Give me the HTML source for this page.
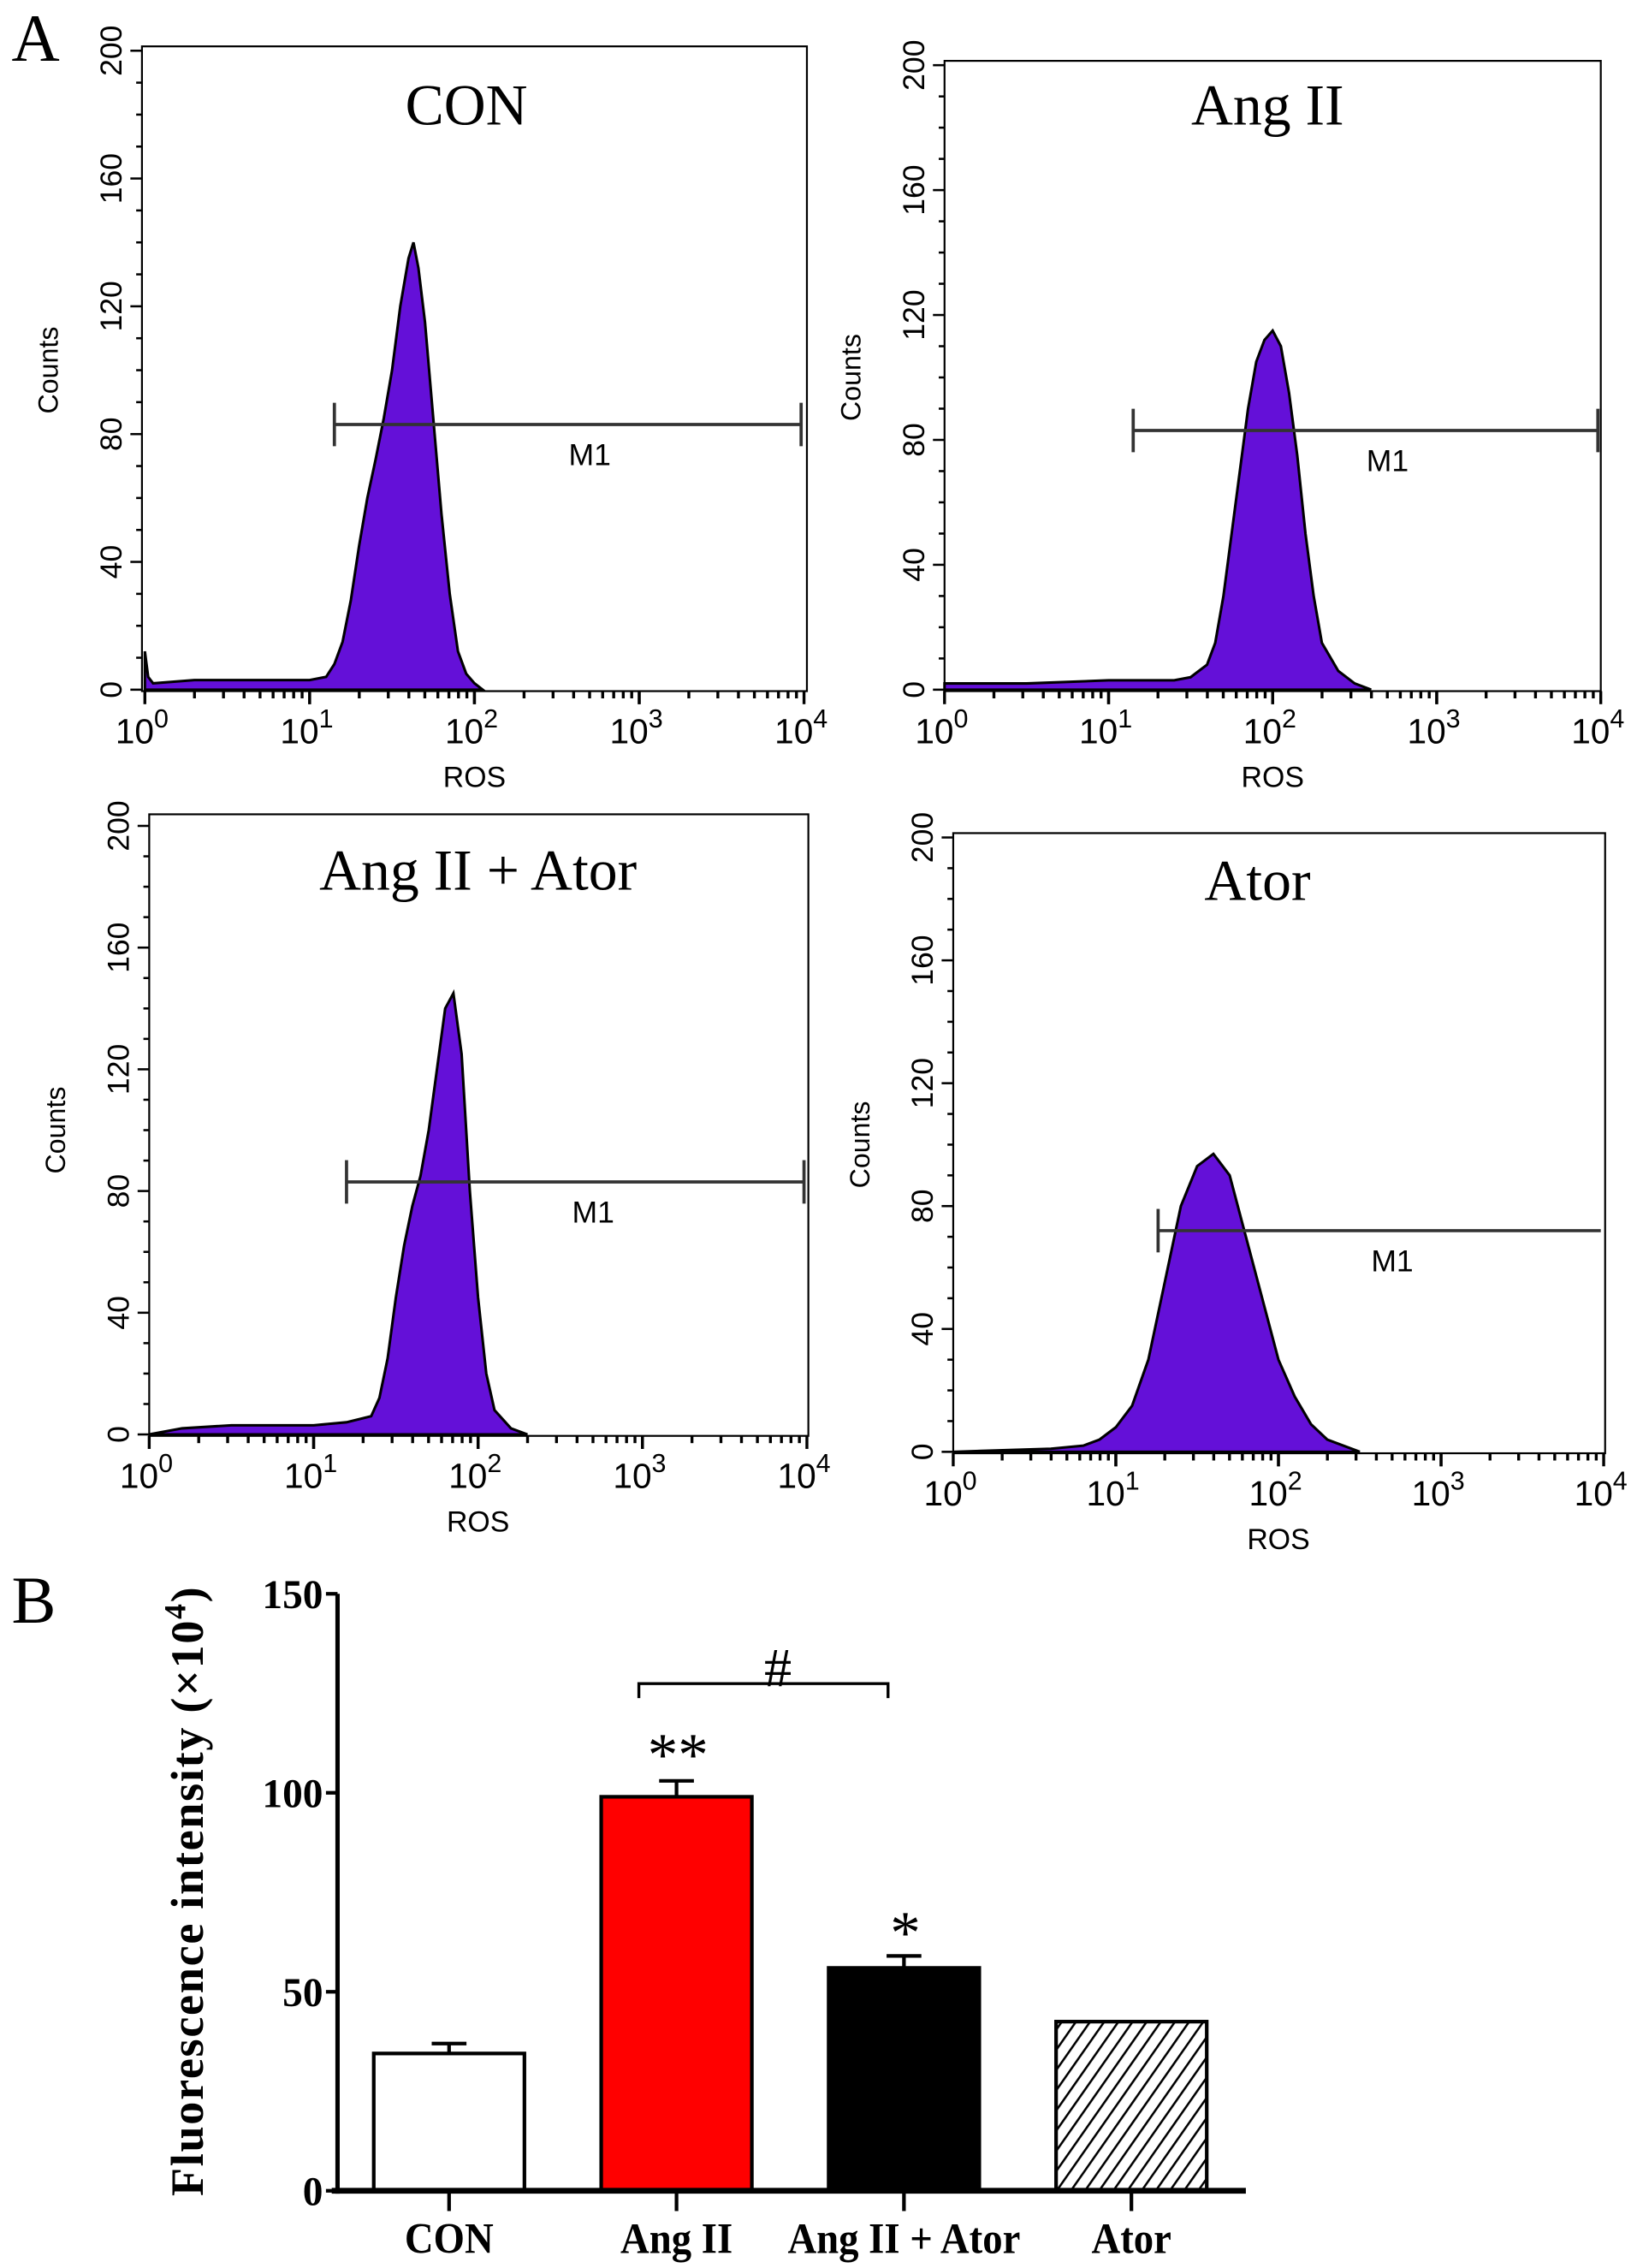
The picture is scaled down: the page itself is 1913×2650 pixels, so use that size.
<!DOCTYPE html>
<html><head><meta charset="utf-8"><style>
html,body{margin:0;padding:0;background:#fff;}
svg{display:block;}
</style></head><body>
<svg id="fig" xmlns="http://www.w3.org/2000/svg" width="1913" height="2650" viewBox="0 0 1130 1565.3" preserveAspectRatio="none">
<text x="8" y="42" font-family="Liberation Serif, serif" font-size="46">A</text>
<text x="8" y="1120" font-family="Liberation Serif, serif" font-size="46">B</text>
<g id="hists"></g>
<g id="bars"></g>
</svg>
<script>
// ---- Histogram data (log10 ROS, counts) ----
const conLog = [0,0.02,0.05,0.3,0.6,0.9,1.0,1.1,1.15,1.2,1.25,1.3,1.35,1.4,1.45,1.5,1.55,1.6,1.63,1.66,1.7,1.75,1.8,1.85,1.9,1.95,2.0,2.05];
const conCounts = [12,4,2,3,3,3,3,4,8,15,28,45,60,72,85,100,120,135,140,132,115,85,55,30,12,5,2,0];
const angLog = [0,0.5,1.0,1.4,1.5,1.6,1.65,1.7,1.75,1.8,1.85,1.9,1.95,2.0,2.05,2.1,2.15,2.2,2.25,2.3,2.4,2.5,2.6];
const angCounts = [2,2,3,3,4,8,15,30,50,70,90,105,112,115,110,95,75,50,30,15,6,2,0];
const comboLog = [0,0.2,0.5,1.0,1.2,1.35,1.4,1.45,1.5,1.55,1.6,1.65,1.7,1.75,1.8,1.85,1.9,1.95,2.0,2.05,2.1,2.2,2.3];
const comboCounts = [0,2,3,3,4,6,12,25,45,62,75,85,100,120,140,145,125,80,45,20,8,2,0];
const atorLog = [0,0.6,0.8,0.9,1.0,1.1,1.2,1.3,1.4,1.5,1.6,1.7,1.8,1.9,2.0,2.1,2.2,2.3,2.4,2.5];
const atorCounts = [0,1,2,4,8,15,30,55,80,93,97,90,70,50,30,18,9,4,2,0];
const histTitles = ["CON","Ang II","Ang II + Ator","Ator"];
const yTickLabels = [0,40,80,120,160,200];
const xTickExps = [0,1,2,3,4];
const m1Start = [1.15,1.15,1.2,1.26];
const m1Count = [83,83,83,72];

// ---- Bar chart data ----
const barCategories = ["CON","Ang II","Ang II + Ator","Ator"];
const barValues = [34.5,99,56,42.5];
const barErrors = [2.5,4,3,0];
const barTicks = [0,50,100,150];

const NS="http://www.w3.org/2000/svg";
function mk(tag,attrs,parent){const e=document.createElementNS(NS,tag);for(const k in attrs)e.setAttribute(k,attrs[k]);parent.appendChild(e);return e;}

const panels=[
 {l:98,t:32,r:557,b:477,y0:476,y200:35,x0:100,x4:555,tx:322,ty:86,lg:conLog,c:conCounts},
 {l:652,t:42,r:1105,b:477,y0:476,y200:45,x0:652,x4:1105,tx:875,ty:86,lg:angLog,c:angCounts},
 {l:103,t:562,r:558,b:991,y0:990,y200:570,x0:103,x4:557,tx:330,ty:614,lg:comboLog,c:comboCounts},
 {l:658,t:575,r:1108,b:1003,y0:1002,y200:578,x0:658,x4:1107,tx:868,ty:621,lg:atorLog,c:atorCounts}
];
const hg=document.getElementById('hists');
panels.forEach((p,i)=>{
 const g=mk('g',{},hg);
 
 
 const X=v=>p.x0+(p.x4-p.x0)*v/4;
 const Y=v=>p.y0-(p.y0-p.y200)*v/200;
 const box=mk('rect',{x:p.l,y:p.t,width:p.r-p.l,height:p.b-p.t,fill:'none',stroke:'#000','stroke-width':1.3},g);
 
 
 let d='M'+X(p.lg[0])+','+Y(0);
 for(let k=0;k<p.lg.length;k++){ d+=' L'+X(p.lg[k])+','+Y(p.c[k]); }
 d+=' L'+X(p.lg[p.lg.length-1])+','+Y(0)+' Z';
 const h=mk('path',{d:d,fill:'#6410d8',stroke:'#000','stroke-width':1.8,'stroke-linejoin':'miter'},g);
 
 
 for(let v=0;v<=200;v+=10){
   const len=v%40===0?8:4;
   mk('line',{x1:p.l-len,x2:p.l,y1:Y(v),y2:Y(v),stroke:'#000','stroke-width':1.5},g);
 }
 yTickLabels.forEach(v=>{
   const t=mk('text',{x:0,y:0,transform:'translate('+(p.l-14)+','+Y(v)+') rotate(-90)','text-anchor':'middle','font-family':'Liberation Sans, sans-serif','font-size':21},g);
   t.textContent=v;
   
   
 });
 const yl=mk('text',{transform:'translate('+(p.l-58)+','+Y(100)+') rotate(-90)','text-anchor':'middle','font-family':'Liberation Sans, sans-serif','font-size':19},g);
 yl.textContent='Counts';
 
 
 for(let e=0;e<4;e++){for(let m=1;m<=10;m++){
   const lv=e+Math.log10(m);
   const len=(m===1||m===10)?9:5;
   mk('line',{x1:X(lv),x2:X(lv),y1:p.b,y2:p.b+len,stroke:'#000','stroke-width':2},g);
 }}
 xTickExps.forEach(e=>{
   const t=mk('text',{x:X(e)-2,y:p.b+36,'text-anchor':'middle','font-family':'Liberation Sans, sans-serif','font-size':24},g);
   t.innerHTML='10<tspan dy="-11" font-size="18">'+e+'</tspan>';
   
   
 });
 const xl=mk('text',{x:X(2),y:p.b+66,'text-anchor':'middle','font-family':'Liberation Sans, sans-serif','font-size':20},g);
 xl.textContent='ROS';
 
 
 const tt=mk('text',{x:p.tx,y:p.ty,'text-anchor':'middle','font-family':'Liberation Serif, serif','font-size':40},g);
 tt.textContent=histTitles[i];
 
 
 const my=Y(m1Count[i]);
 const mg=mk('g',{stroke:'#333','stroke-width':2.2},g);
 
 
 mk('line',{x1:X(m1Start[i]),x2:X(4)-2,y1:my,y2:my},mg);
 mk('line',{x1:X(m1Start[i]),x2:X(m1Start[i]),y1:my-15,y2:my+15},mg);
 if(i<3) mk('line',{x1:X(4)-2,x2:X(4)-2,y1:my-15,y2:my+15},mg);
 const ml=mk('text',{x:X(2.7),y:my+28,'text-anchor':'middle','font-family':'Liberation Sans, sans-serif','font-size':21},g);
 ml.textContent='M1';
 
 
});

// ---- Bar chart ----
const bg=document.getElementById('bars');
const by0=1512, by150=1100, axX=233;
const BY=v=>by0-(by0-by150)*v/150;
const catX=[310,467,624,781];
const defs=mk('defs',{},bg);
const pat=mk('pattern',{id:'hatch',patternUnits:'userSpaceOnUse',width:8,height:8,patternTransform:'rotate(35)'},defs);
mk('rect',{width:8,height:8,fill:'#fff'},pat);
mk('line',{x1:0,y1:0,x2:0,y2:8,stroke:'#000','stroke-width':3},pat);
const fills=['#fff','#ff0000','#000','url(#hatch)'];
barValues.forEach((v,i)=>{
 const cx=catX[i];
 const top=BY(v);
 if(barErrors[i]>0){
   const e=mk('g',{stroke:'#000','stroke-width':2.5},bg);
   
   
   mk('line',{x1:cx,x2:cx,y1:top,y2:BY(v+barErrors[i])},e);
   mk('line',{x1:cx-12,x2:cx+12,y1:BY(v+barErrors[i]),y2:BY(v+barErrors[i])},e);
 }
 const r=mk('rect',{x:cx-52,y:top,width:104,height:by0-top,fill:fills[i],stroke:'#000','stroke-width':2.5},bg);
 
 
 mk('line',{x1:cx,x2:cx,y1:by0,y2:by0+14,stroke:'#000','stroke-width':2.5},bg);
 const t=mk('text',{x:cx,y:1555,'text-anchor':'middle','font-family':'Liberation Serif, serif','font-size':30,'font-weight':'bold',transform:'translate('+cx+',0) scale(0.92,1) translate('+(-cx)+',0)'},bg);
 t.textContent=barCategories[i];
 
 
});
mk('line',{x1:axX,x2:axX,y1:by150,y2:by0+2,stroke:'#000','stroke-width':3},bg);
mk('line',{x1:axX-4,x2:860,y1:by0,y2:by0,stroke:'#000','stroke-width':4},bg);
barTicks.forEach(v=>{
 mk('line',{x1:axX-8,x2:axX,y1:BY(v),y2:BY(v),stroke:'#000','stroke-width':2.5},bg);
 const t=mk('text',{x:axX-10,y:BY(v)+10,'text-anchor':'end','font-family':'Liberation Serif, serif','font-size':28,'font-weight':'bold'},bg);
 t.textContent=v;
 
 
});
const yt=mk('text',{transform:'translate(140,1305) rotate(-90)','text-anchor':'middle','font-family':'Liberation Serif, serif','font-size':32,'font-weight':'bold','letter-spacing':'1'},bg);
yt.innerHTML='Fluorescence intensity  (×10<tspan dy="-12" font-size="21">4</tspan><tspan dy="12">)</tspan>';


const br=mk('path',{d:'M441,1172 L441,1162 L613,1162 L613,1172',fill:'none',stroke:'#000','stroke-width':2},bg);


const hs=mk('text',{x:537,y:1164,'text-anchor':'middle','font-family':'Liberation Serif, serif','font-size':38},bg);
hs.textContent='#';


const s2=mk('text',{x:468,y:1225,'text-anchor':'middle','font-family':'Liberation Serif, serif','font-size':42},bg);
s2.textContent='**';


const s1=mk('text',{x:625,y:1348,'text-anchor':'middle','font-family':'Liberation Serif, serif','font-size':42},bg);
s1.textContent='*';


</script>
</body></html>
